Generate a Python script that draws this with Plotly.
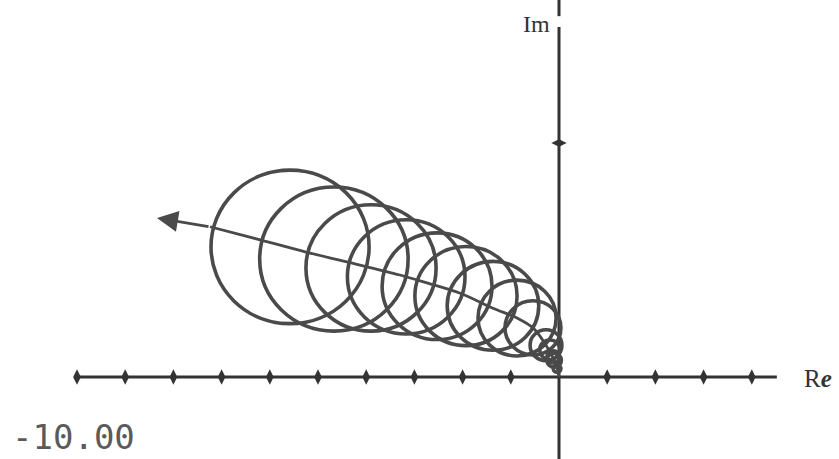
import plotly.graph_objects as go

# Loops of the locus: centre (Re, Im) and radius, largest loop first
loop_re = [-5.58, -4.67, -3.90, -3.17, -2.53, -1.93, -1.37, -0.87, -0.54, -0.27, -0.19, -0.12, -0.10, -0.04]
loop_im = [2.78, 2.52, 2.33, 2.14, 1.94, 1.73, 1.52, 1.26, 1.05, 0.68, 0.58, 0.43, 0.36, 0.18]
loop_r = [1.64, 1.54, 1.35, 1.22, 1.14, 1.06, 0.95, 0.81, 0.58, 0.33, 0.21, 0.13, 0.15, 0.08]

# Path of the loop centres, ending in the arrow tip
path_re = [0.0, -0.06, -0.27, -0.54, -0.87, -1.37, -2.05, -2.74, -3.30, -4.40, -5.25, -6.20, -7.24, -8.34]
path_im = [0.0, 0.26, 0.68, 1.05, 1.26, 1.47, 1.79, 2.01, 2.18, 2.46, 2.67, 2.93, 3.21, 3.40]

# Axis marks
re_ticks = [-10, -9, -8, -7, -6, -5, -4, -3, -2, -1, 1, 2, 3, 4]
im_ticks = [5]
re_axis_end = [-10, 4.52]
im_axis_low = [-1.76, 7.48]
im_axis_high = [7.71, 8.1]
corner_label = "-10.00"

ink = "#4a4a4a"
axis_ink = "#333333"

fig = go.Figure()

# Real axis
fig.add_trace(go.Scatter(x=re_axis_end, y=[0, 0], mode="lines",
                         line=dict(color=axis_ink, width=3), hoverinfo="skip"))
# Imaginary axis (broken near the top)
fig.add_trace(go.Scatter(x=[0, 0], y=im_axis_low, mode="lines",
                         line=dict(color=axis_ink, width=3), hoverinfo="skip"))
fig.add_trace(go.Scatter(x=[0, 0], y=im_axis_high, mode="lines",
                         line=dict(color=axis_ink, width=3), hoverinfo="skip"))

# Tick dots
fig.add_trace(go.Scatter(x=re_ticks, y=[0] * len(re_ticks), mode="markers",
                         marker=dict(symbol="diamond-tall", size=11, color=axis_ink),
                         hoverinfo="skip"))
fig.add_trace(go.Scatter(x=[0] * len(im_ticks), y=im_ticks, mode="markers",
                         marker=dict(symbol="diamond-wide", size=11, color=axis_ink),
                         hoverinfo="skip"))

# Loops
for cx, cy, r in zip(loop_re, loop_im, loop_r):
    fig.add_shape(type="circle", xref="x", yref="y",
                  x0=cx - r, x1=cx + r, y0=cy - r, y1=cy + r,
                  line=dict(color=ink, width=3.6), layer="above")

# Centre path with arrow
fig.add_trace(go.Scatter(x=path_re[:-1], y=path_im[:-1], mode="lines",
                         line=dict(color=ink, width=2.8, shape="spline"),
                         hoverinfo="skip"))
fig.add_annotation(x=path_re[-1], y=path_im[-1], ax=path_re[-2], ay=path_im[-2],
                   xref="x", yref="y", axref="x", ayref="y", text="",
                   showarrow=True, arrowhead=2, arrowsize=1.5, arrowwidth=2.8,
                   arrowcolor=ink)

# Axis names
fig.add_annotation(x=536 / 839, y=(459 - 24) / 459, xref="paper", yref="paper",
                   xanchor="center", yanchor="middle",
                   text="Im", showarrow=False,
                   font=dict(family="Liberation Serif", size=24, color="#333333"))
fig.add_annotation(x=818 / 839, y=(459 - 378) / 459, xref="paper", yref="paper",
                   xanchor="center", yanchor="middle",
                   text="R<i><b>e</b></i>", showarrow=False,
                   font=dict(family="Liberation Serif", size=25, color="#333333"))
fig.add_annotation(x=10 / 839, y=(459 - 437) / 459, xref="paper", yref="paper",
                   xanchor="left", yanchor="middle", text=corner_label, showarrow=False,
                   font=dict(family="DejaVu Sans Mono", size=34, color="#5a5a5a"))

fig.update_layout(
    width=839, height=459,
    margin=dict(l=0, r=0, t=0, b=0),
    paper_bgcolor="white", plot_bgcolor="white",
    showlegend=False,
    xaxis=dict(range=[-559 / 48.2, 280 / 48.2], visible=False, fixedrange=True),
    yaxis=dict(range=[-82 / 46.8, 377 / 46.8], visible=False, fixedrange=True),
)

fig.write_html("out.html")
